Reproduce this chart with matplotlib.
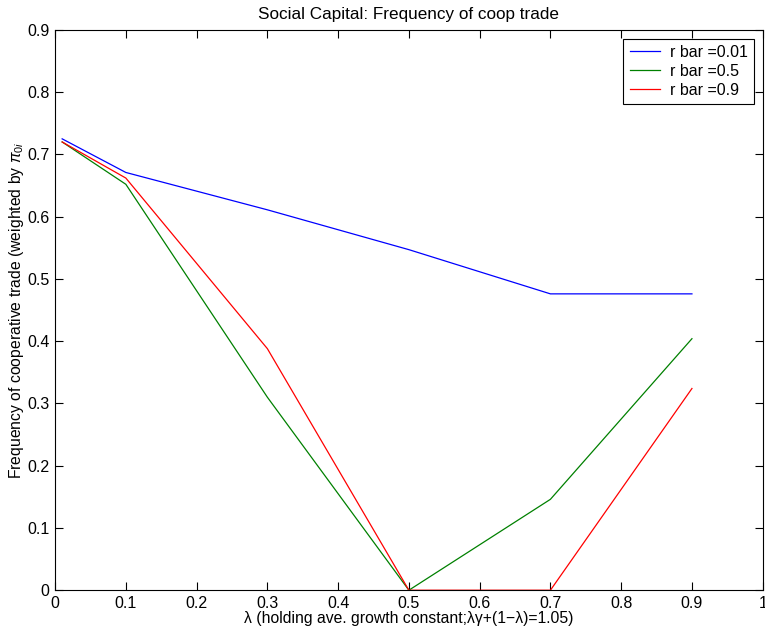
import numpy as np
import matplotlib
matplotlib.use('Agg')
import matplotlib.pyplot as plt

plt.rcParams['font.family'] = ['Liberation Sans', 'DejaVu Sans']
plt.rcParams['mathtext.fontset'] = 'custom'
plt.rcParams['mathtext.rm'] = 'Liberation Sans'
plt.rcParams['mathtext.it'] = 'Liberation Sans:italic'

# data
lam = [0.01, 0.1, 0.3, 0.5, 0.7, 0.9]
r_001 = [0.725, 0.671, 0.611, 0.547, 0.476, 0.476]
r_05 = [0.720, 0.652, 0.310, 0.0, 0.146, 0.404]
r_09 = [0.720, 0.662, 0.388, 0.0, 0.0, 0.324]
labels = ['r bar =0.01', 'r bar =0.5', 'r bar =0.9']

fig = plt.figure(figsize=(7.65, 6.36), dpi=100)
ax = fig.add_axes([0.072, 0.072, 0.925, 0.881])

ax.plot(lam, r_001, color='blue', lw=0.9, label=labels[0])
ax.plot(lam, r_05, color='#008000', lw=0.9, label=labels[1])
ax.plot(lam, r_09, color='red', lw=0.9, label=labels[2])

ax.set_xlim(0, 1)
ax.set_ylim(0, 0.9)
ax.set_xticks(np.arange(0, 1.01, 0.1))
ax.set_xticklabels(['0', '0.1', '0.2', '0.3', '0.4', '0.5', '0.6', '0.7', '0.8', '0.9', '1'])
ax.set_yticks(np.arange(0, 0.91, 0.1))
ax.set_yticklabels(['0', '0.1', '0.2', '0.3', '0.4', '0.5', '0.6', '0.7', '0.8', '0.9'])
ax.tick_params(direction='in', top=True, right=True, labelsize=11.5, length=6, pad=4)

ax.set_title('Social Capital: Frequency of coop trade', fontsize=12.3, pad=8)
ax.set_xlabel(r'λ (holding ave. growth constant;λγ+(1−λ)=1.05)', fontsize=11.3, labelpad=0)
ax.set_ylabel(r'Frequency of cooperative trade (weighted by $\pi_{0i}$', fontsize=11.3, labelpad=1)

leg = ax.legend(loc='upper right', fontsize=11.5, fancybox=False, framealpha=1,
                edgecolor='black', handlelength=1.9, handletextpad=0.6,
                borderaxespad=0.55, labelspacing=0.25, borderpad=0.4)
leg.get_frame().set_linewidth(0.8)

fig.savefig('out.png', dpi=100)
